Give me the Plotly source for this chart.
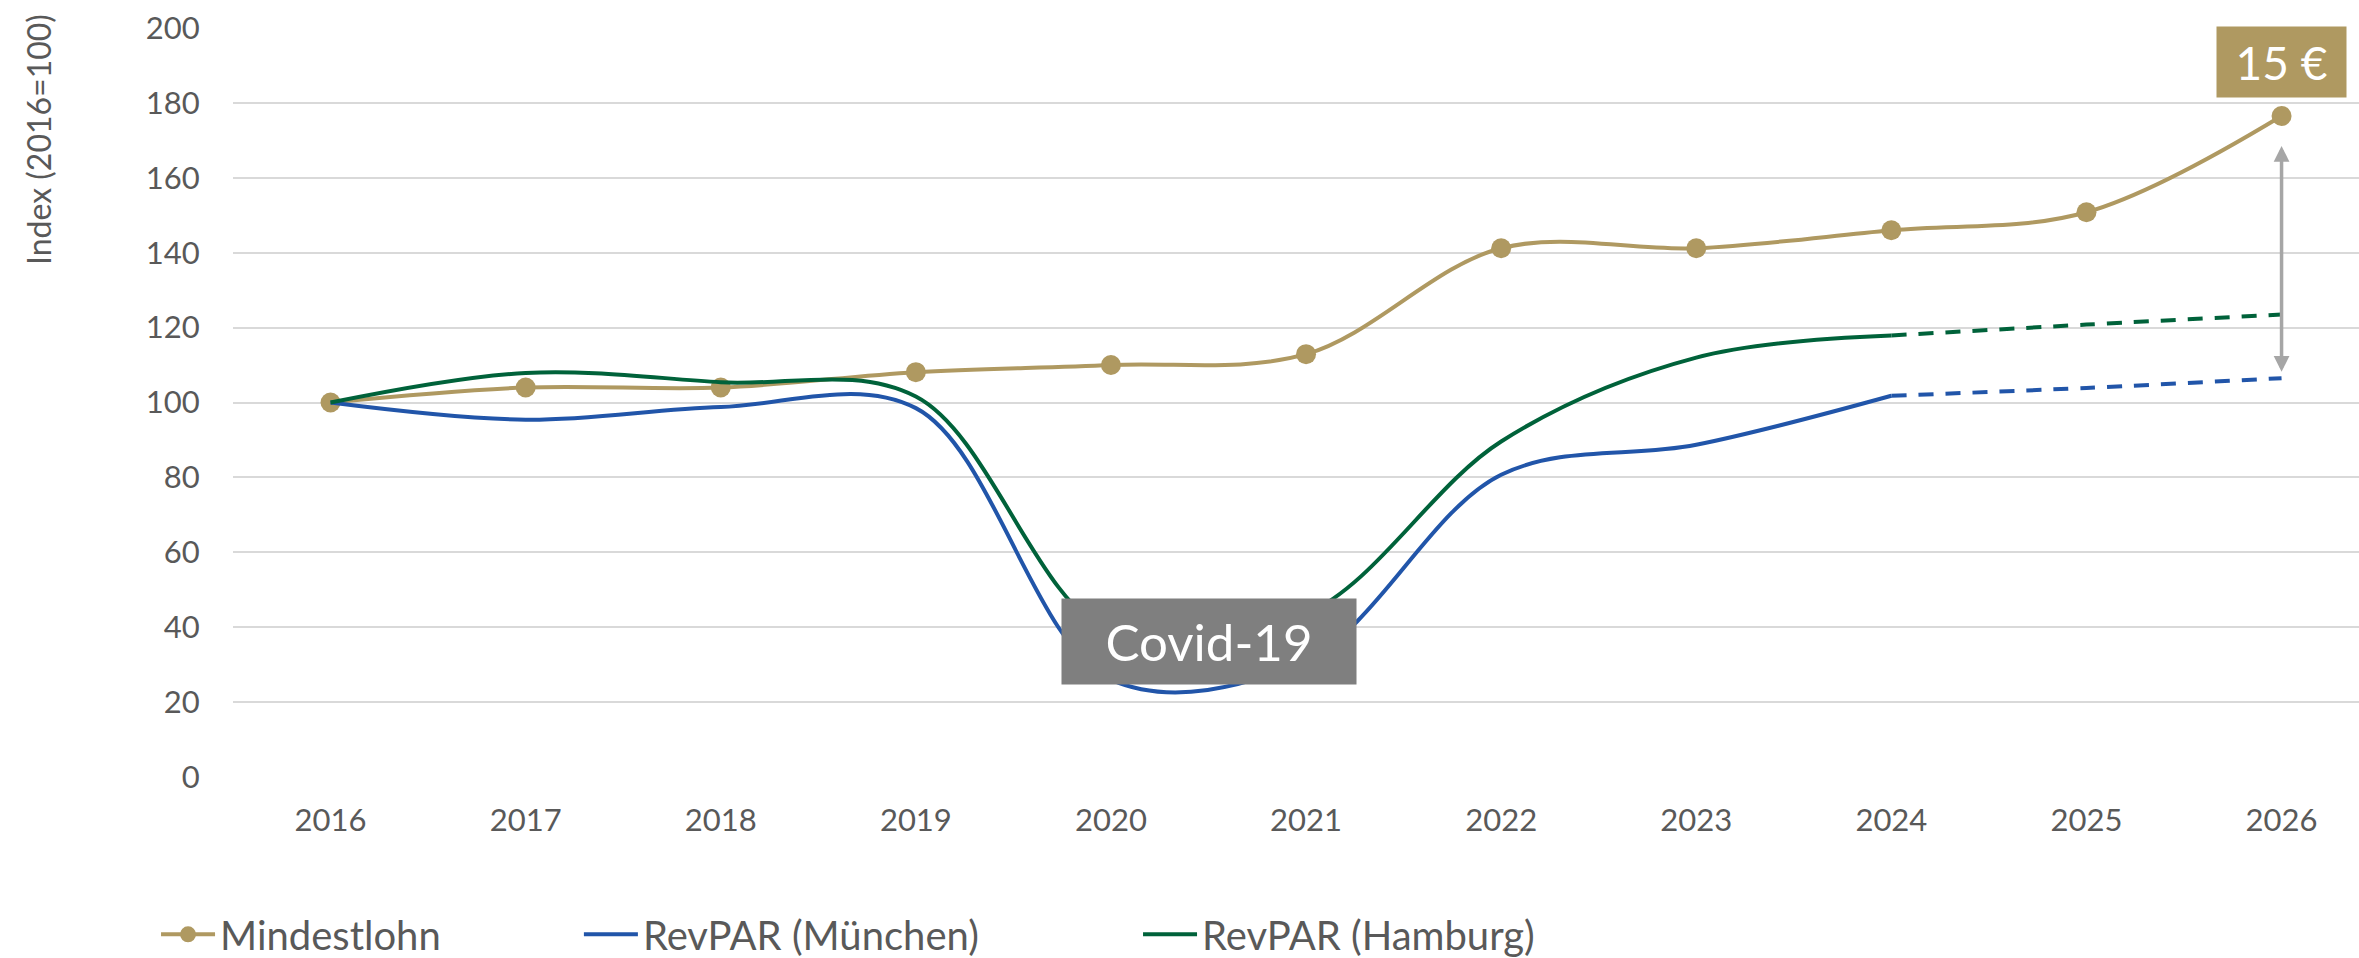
import plotly.graph_objects as go

years = [2016, 2017, 2018, 2019, 2020, 2021, 2022, 2023, 2024, 2025, 2026]
mindestlohn = [100, 104.0, 104.0, 108.1, 110.0, 112.9, 141.2, 141.2, 146.0, 150.8, 176.5]

years_actual = [2016, 2017, 2018, 2019, 2020, 2021, 2022, 2023, 2024]
revpar_muc = [100, 95.4, 98.8, 98.5, 26.0, 31.3, 80.7, 88.7, 101.8]
revpar_ham = [100, 107.9, 105.4, 101.6, 38.4, 43.5, 89.6, 112.0, 117.9]

years_fc = [2024, 2025, 2026]
revpar_muc_fc = [101.8, 103.9, 106.5]
revpar_ham_fc = [117.9, 120.8, 123.5]

y_ticks = [0, 20, 40, 60, 80, 100, 120, 140, 160, 180, 200]

GOLD = "#AF9961"
BLUE = "#2155A9"
GREEN = "#00623A"
TXT = "#595959"
FONT = "Lato"

fig = go.Figure()

fig.add_trace(go.Scatter(
    x=years, y=mindestlohn, name="Mindestlohn", mode="lines+markers",
    line=dict(color=GOLD, width=4, shape="spline", smoothing=1),
    marker=dict(color=GOLD, size=20), legend="legend"))

fig.add_trace(go.Scatter(
    x=years_actual, y=revpar_muc, name="RevPAR (München)", mode="lines",
    line=dict(color=BLUE, width=4, shape="spline", smoothing=1), legend="legend2"))
fig.add_trace(go.Scatter(
    x=years_fc, y=revpar_muc_fc, mode="lines", showlegend=False,
    line=dict(color=BLUE, width=4, shape="spline", smoothing=1, dash="15px,12px")))

fig.add_trace(go.Scatter(
    x=years_actual, y=revpar_ham, name="RevPAR (Hamburg)", mode="lines",
    line=dict(color=GREEN, width=4, shape="spline", smoothing=1), legend="legend3"))
fig.add_trace(go.Scatter(
    x=years_fc, y=revpar_ham_fc, mode="lines", showlegend=False,
    line=dict(color=GREEN, width=4, shape="spline", smoothing=1, dash="15px,12px")))

W, H = 2359, 958
L, T, B = 233, 28, 181
px_per_year = 195.1
x0 = 2015.5
x1 = x0 + (W - L) / px_per_year

legend_common = dict(orientation="h", yanchor="middle", y=-0.21, xanchor="left",
                     font=dict(family=FONT, size=40, color=TXT), bgcolor="rgba(0,0,0,0)",
                     itemwidth=54, tracegroupgap=0)

fig.update_layout(
    width=W, height=H, autosize=False,
    margin=dict(l=L, r=0, t=T, b=B, pad=0, autoexpand=False),
    paper_bgcolor="white", plot_bgcolor="white",
    font=dict(family=FONT, color=TXT),
    xaxis=dict(range=[x0, x1], tickmode="array", tickvals=years, ticktext=[str(y) for y in years],
               showgrid=False, zeroline=False, showline=False,
               ticks="outside", ticklen=16, tickcolor="rgba(0,0,0,0)",
               tickfont=dict(family=FONT, size=31, color=TXT)),
    yaxis=dict(range=[0, 200], tickmode="array", tickvals=y_ticks,
               showgrid=True, gridcolor="#D9D9D9", gridwidth=2, zeroline=False, showline=False,
               ticks="outside", ticklen=26, tickcolor="rgba(0,0,0,0)",
               tickfont=dict(family=FONT, size=31, color=TXT)),
    legend=dict(legend_common, x=-0.0362),
    legend2=dict(legend_common, x=0.1627),
    legend3=dict(legend_common, x=0.4257),
    showlegend=True,
)

# y-axis title placed near the top like the original
fig.add_annotation(text="Index (2016=100)", textangle=-90, xref="paper", yref="paper",
                   x=(38 - L) / (W - L), y=1 - (140 - T) / (H - T - B),
                   xanchor="center", yanchor="middle", showarrow=False,
                   font=dict(family=FONT, size=32, color=TXT))

# Covid label box
fig.add_annotation(text="Covid-19", x=2020.5, y=36.3, xref="x", yref="y", showarrow=False,
                   bgcolor="#7F7F7F", width=294, height=85, borderpad=0,
                   font=dict(family=FONT, size=51, color="white"))

# 15 € label box
fig.add_annotation(text="15 €", x=2026, y=190.8, xref="x", yref="y", showarrow=False,
                   bgcolor=GOLD, width=129, height=70, borderpad=0,
                   font=dict(family=FONT, size=46, color="white"))

# double-headed gap arrow
fig.add_annotation(text="", x=2026, y=108.2, ax=2026, ay=168.9, xref="x", yref="y",
                   axref="x", ayref="y", showarrow=True, arrowside="end+start",
                   arrowhead=2, startarrowhead=2, arrowsize=0.9, startarrowsize=0.9,
                   arrowwidth=3.5, arrowcolor="#A6A6A6")

fig.write_html("out.html", config={"displayModeBar": False},
               post_script="document.body.style.margin='0';")
